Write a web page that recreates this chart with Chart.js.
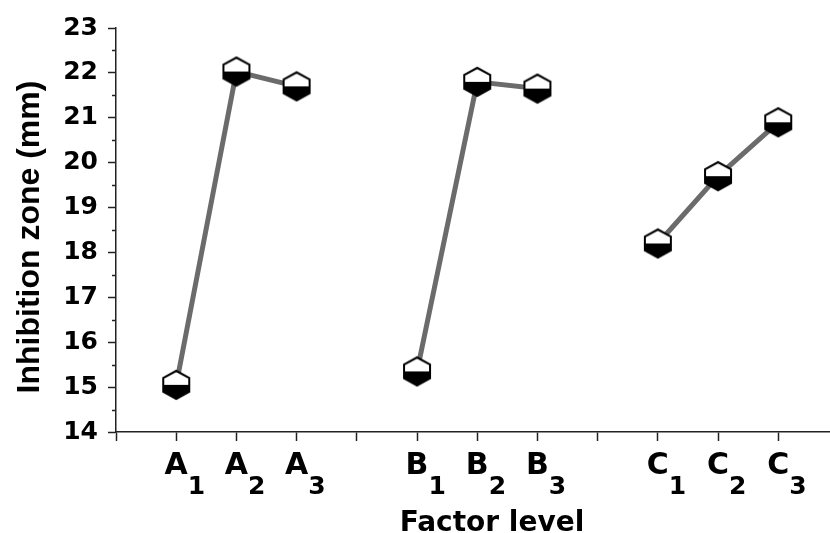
<!DOCTYPE html>
<html>
<head>
<meta charset="utf-8">
<script src="https://cdn.jsdelivr.net/npm/chart.js@4.4.0/dist/chart.umd.min.js"></script>
<style>
  html, body { margin: 0; padding: 0; background: #fff; overflow: hidden; }
  #wrap { width: 830px; height: 533px; }
</style>
</head>
<body>
<div id="wrap"><canvas id="chart" width="830" height="533"></canvas></div>
<script>
/* ───────── DATA ───────── */
// one slot per x position, blank slots separate the factor groups
const slotLabels = ["", "A1", "A2", "A3", "", "B1", "B2", "B3", "", "C1", "C2", "C3"];
const inhibitionZone = [null, 15.05, 22.03, 21.7, null, 15.35, 21.8, 21.65, null, 18.2, 19.7, 20.9];
const yMin = 14, yMax = 23, yStep = 1;
const xTitle = "Factor level";
const yTitle = "Inhibition zone (mm)";

const AXIS = "#222";

/* ───────── HALF WHITE / HALF BLACK HEXAGON ───────── */
function hexMarker() {
  const c = document.createElement("canvas");
  c.width = 30; c.height = 32;
  const g = c.getContext("2d");
  const cx = 15, cy = 16, hw = 13, h = 14, e = 7;
  const path = () => {
    g.beginPath();
    g.moveTo(cx, cy - h);
    g.lineTo(cx + hw, cy - e);
    g.lineTo(cx + hw, cy + e);
    g.lineTo(cx, cy + h);
    g.lineTo(cx - hw, cy + e);
    g.lineTo(cx - hw, cy - e);
    g.closePath();
  };
  path(); g.fillStyle = "#fff"; g.fill();
  g.save();
  g.beginPath(); g.rect(0, cy, c.width, c.height); g.clip();
  path(); g.fillStyle = "#000"; g.fill();
  g.restore();
  path(); g.lineWidth = 2; g.strokeStyle = "#000"; g.stroke();
  return c;
}

/* ───────── LABELS WITH SUBSCRIPTS, TITLES, MINOR TICKS ───────── */
const axisText = {
  id: "axisText",
  afterDraw(chart) {
    const { ctx, chartArea: a, scales: { x, y } } = chart;
    ctx.save();

    // minor ticks on y
    ctx.strokeStyle = AXIS; ctx.lineWidth = 1.5;
    for (let v = yMin + yStep / 2; v < yMax; v += yStep) {
      const py = Math.round(y.getPixelForValue(v)) + 0.5;
      ctx.beginPath(); ctx.moveTo(a.left - 4, py); ctx.lineTo(a.left, py); ctx.stroke();
    }

    // x tick labels: letter + subscript digit
    ctx.fillStyle = "#000";
    ctx.textBaseline = "alphabetic";
    slotLabels.forEach((lab, i) => {
      if (!lab) return;
      const px = x.getPixelForValue(i);
      ctx.font = 'bold 30px "DejaVu Sans"';
      ctx.textAlign = "center";
      ctx.fillText(lab[0], px, a.bottom + 42);
      const w = ctx.measureText(lab[0]).width;
      ctx.font = 'bold 25px "DejaVu Sans"';
      ctx.textAlign = "left";
      ctx.fillText(lab.slice(1), px + w / 2, a.bottom + 62);
    });

    // axis titles
    ctx.font = 'bold 28px "DejaVu Sans"';
    ctx.textAlign = "center";
    ctx.fillText(xTitle, (a.left + a.right) / 2 + 19, a.bottom + 99);

    ctx.translate(39, (a.top + a.bottom) / 2 + 7);
    ctx.rotate(-Math.PI / 2);
    ctx.font = 'bold 32px "Liberation Sans"';
    ctx.fillText(yTitle, 0, 0);

    ctx.restore();
  }
};

/* ───────── CHART ───────── */
const ctx = document.getElementById("chart").getContext("2d");
new Chart(ctx, {
  type: "line",
  data: {
    datasets: [{
      data: inhibitionZone.map((v, i) => ({ x: i, y: v })),
      borderColor: "#6b6b6b",
      borderWidth: 5,
      tension: 0,
      spanGaps: false,
      pointStyle: hexMarker(),
      pointRadius: 14
    }]
  },
  options: {
    responsive: false,
    animation: false,
    layout: { autoPadding: false, padding: { top: 28, right: 0, bottom: 0, left: 0 } },
    plugins: { legend: { display: false }, tooltip: { enabled: false } },
    scales: {
      x: {
        type: "linear",
        min: 0,
        max: 11.86,
        afterFit: s => { s.height = 101; s.paddingRight = 0; s.paddingLeft = 0; },
        ticks: { stepSize: 1, includeBounds: false, autoSkip: false, callback: () => "" },
        grid: { drawOnChartArea: false, tickLength: 9, tickColor: AXIS, tickWidth: 1.5 },
        border: { color: AXIS, width: 1.5 }
      },
      y: {
        min: yMin,
        max: yMax,
        afterFit: s => { s.width = 116; },
        ticks: {
          stepSize: yStep,
          padding: 10,
          color: "#000",
          font: { family: "DejaVu Sans", weight: "bold", size: 25 }
        },
        grid: { drawOnChartArea: false, tickLength: 8, tickColor: AXIS, tickWidth: 1.5 },
        border: { color: AXIS, width: 1.5 }
      }
    }
  },
  plugins: [axisText]
});
</script>
</body>
</html>
